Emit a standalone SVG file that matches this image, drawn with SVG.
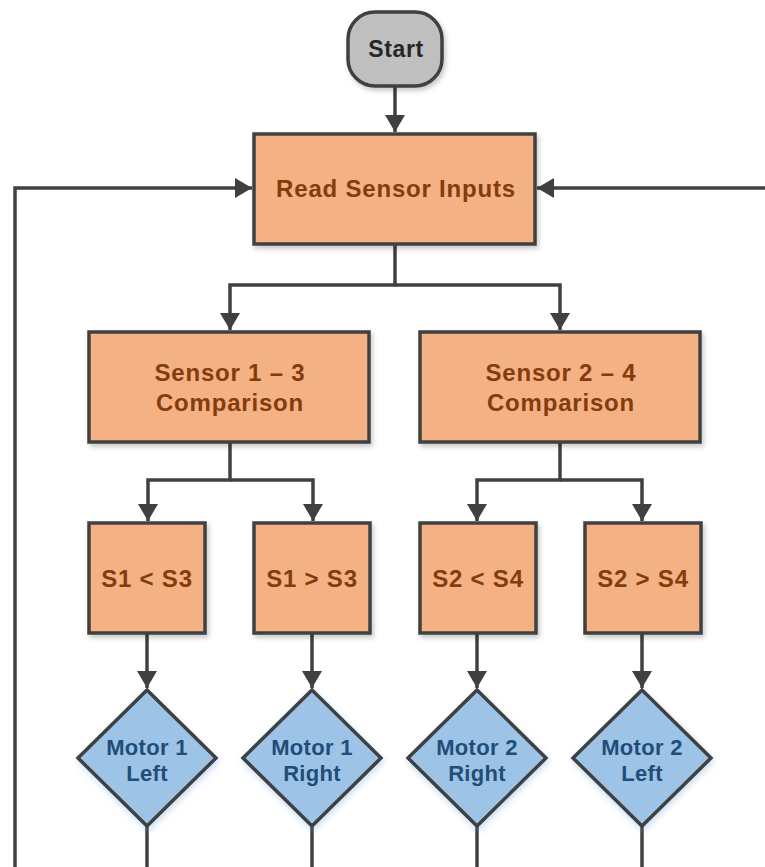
<svg xmlns="http://www.w3.org/2000/svg" width="765" height="867" viewBox="0 0 765 867">
<style>
.conn{fill:none;stroke:#404040;stroke-width:3.5}
.box{fill:#F4B183;stroke:#404040;stroke-width:3.5}
.dia{fill:#9DC3E6;stroke:#404040;stroke-width:3.5}
.start{fill:#BFBFBF;stroke:#404040;stroke-width:3.5}
.t{font-family:"Liberation Sans",Arial,sans-serif;font-weight:bold;font-size:24px;letter-spacing:0.8px;text-anchor:middle;fill:#843C0C}
.ts{fill:#262626;font-size:23px;letter-spacing:0.6px}
.tm{font-size:22px;letter-spacing:0.3px;fill:#1F4E79}
</style>
<defs>
<marker id="arr" markerUnits="userSpaceOnUse" markerWidth="18" markerHeight="20" refX="17" refY="10" orient="auto">
<path d="M0,0 L17,10 L0,20 Z" fill="#404040"/>
</marker>
<filter id="sh" x="-20%" y="-20%" width="140%" height="140%">
<feDropShadow dx="2" dy="3" stdDeviation="2.5" flood-color="#000" flood-opacity="0.22"/>
</filter>
<filter id="shb" x="-20%" y="-20%" width="140%" height="140%">
<feDropShadow dx="1" dy="3" stdDeviation="3" flood-color="#5B9BD5" flood-opacity="0.35"/>
</filter>
</defs>
<g id="connectors">
<path class="conn" d="M395,86 V132" marker-end="url(#arr)"/>
<path class="conn" d="M15,867 V188 H252" marker-end="url(#arr)"/>
<path class="conn" d="M765,188 H537" marker-end="url(#arr)"/>
<path class="conn" d="M395,244 V285 H230 V330" marker-end="url(#arr)"/>
<path class="conn" d="M395,285 H560 V330" marker-end="url(#arr)"/>
<path class="conn" d="M230,442 V480 H148 V521" marker-end="url(#arr)"/>
<path class="conn" d="M230,480 H313 V521" marker-end="url(#arr)"/>
<path class="conn" d="M560,442 V480 H477 V521" marker-end="url(#arr)"/>
<path class="conn" d="M560,480 H642 V521" marker-end="url(#arr)"/>
<path class="conn" d="M147,633 V688" marker-end="url(#arr)"/>
<path class="conn" d="M312,633 V688" marker-end="url(#arr)"/>
<path class="conn" d="M477,633 V688" marker-end="url(#arr)"/>
<path class="conn" d="M642,633 V688" marker-end="url(#arr)"/>
<path class="conn" d="M147,826 V867"/>
<path class="conn" d="M312,826 V867"/>
<path class="conn" d="M477,826 V867"/>
<path class="conn" d="M642,826 V867"/>
</g>
<g id="start">
<rect class="start" x="348" y="12" width="94" height="74" rx="27" filter="url(#sh)"/>
<text class="t ts" x="396" y="57">Start</text>
</g>
<g id="read">
<rect class="box" x="254" y="134" width="281" height="110" filter="url(#sh)"/>
<text class="t" x="396" y="197">Read Sensor Inputs</text>
</g>
<g id="cmp13">
<rect class="box" x="89" y="332" width="280" height="110" filter="url(#sh)"/>
<text class="t" x="230" y="381">Sensor 1 – 3</text>
<text class="t" x="230" y="411">Comparison</text>
</g>
<g id="cmp24">
<rect class="box" x="420" y="332" width="280" height="110" filter="url(#sh)"/>
<text class="t" x="561" y="381">Sensor 2 – 4</text>
<text class="t" x="561" y="411">Comparison</text>
</g>
<g id="s1lts3">
<rect class="box" x="89" y="523" width="116" height="110" filter="url(#sh)"/>
<text class="t" x="147" y="587">S1 &lt; S3</text>
</g>
<g id="s1gts3">
<rect class="box" x="254" y="523" width="116" height="110" filter="url(#sh)"/>
<text class="t" x="312" y="587">S1 &gt; S3</text>
</g>
<g id="s2lts4">
<rect class="box" x="420" y="523" width="116" height="110" filter="url(#sh)"/>
<text class="t" x="478" y="587">S2 &lt; S4</text>
</g>
<g id="s2gts4">
<rect class="box" x="585" y="523" width="116" height="110" filter="url(#sh)"/>
<text class="t" x="643" y="587">S2 &gt; S4</text>
</g>
<g id="m1left">
<path class="dia" d="M147,690 L216,758 L147,826 L78,758 Z" filter="url(#shb)"/>
<text class="t tm" x="147" y="755">Motor 1</text>
<text class="t tm" x="147" y="781">Left</text>
</g>
<g id="m1right">
<path class="dia" d="M312,690 L381,758 L312,826 L243,758 Z" filter="url(#shb)"/>
<text class="t tm" x="312" y="755">Motor 1</text>
<text class="t tm" x="312" y="781">Right</text>
</g>
<g id="m2right">
<path class="dia" d="M477,690 L546,758 L477,826 L408,758 Z" filter="url(#shb)"/>
<text class="t tm" x="477" y="755">Motor 2</text>
<text class="t tm" x="477" y="781">Right</text>
</g>
<g id="m2left">
<path class="dia" d="M642,690 L711,758 L642,826 L573,758 Z" filter="url(#shb)"/>
<text class="t tm" x="642" y="755">Motor 2</text>
<text class="t tm" x="642" y="781">Left</text>
</g>
</svg>
